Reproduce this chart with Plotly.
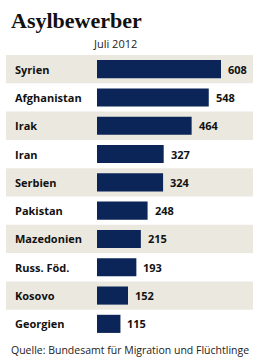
import plotly.graph_objects as go

countries = ["Syrien", "Afghanistan", "Irak", "Iran", "Serbien", "Pakistan",
             "Mazedonien", "Russ. Föd.", "Kosovo", "Georgien"]
values = [608, 548, 464, 327, 324, 248, 215, 193, 152, 115]

W, H = 255, 364
BAR = "#0b2558"
BAND = "#ebe8df"
FONT = "Open Sans"

# pixel layout
x0_px, x608_px, xend_px = 97, 221, 253
scale = (x608_px - x0_px) / 608
xmax = (xend_px - x0_px) / scale
top_px, pitch = 55, 28.3
bot_px = top_px + pitch * len(countries)

idx = list(range(len(countries)))

fig = go.Figure(go.Bar(
    x=values, y=idx, orientation="h", width=0.64,
    marker=dict(color=BAR, line=dict(width=0)),
    hoverinfo="skip",
))

shapes = []
for i in idx:
    if i % 2 == 0:
        shapes.append(dict(type="rect", xref="paper", yref="y", layer="below",
                           x0=6 / W, x1=253 / W, y0=i - 0.5, y1=i + 0.5,
                           fillcolor=BAND, line=dict(width=0)))

ann = []
for i, (c, v) in enumerate(zip(countries, values)):
    ann.append(dict(xref="paper", yref="y", x=13 / W, y=i, text=c, showarrow=False,
                    xanchor="left", yanchor="middle",
                    font=dict(family=FONT, size=11, color="#111111", weight="bold")))
    ann.append(dict(xref="x", yref="y", x=v, y=i, text=str(v), showarrow=False,
                    xanchor="left", yanchor="middle", xshift=5,
                    font=dict(family=FONT, size=11, color="#111111", weight="bold")))

ann.append(dict(xref="paper", yref="paper", x=9 / W, y=1 - 20 / H, text="Asylbewerber",
                showarrow=False, xanchor="left", yanchor="middle",
                font=dict(family="Liberation Serif", size=22, color="#111111", weight="bold")))
ann.append(dict(xref="paper", yref="paper", x=115 / W, y=1 - 43 / H, text="Juli 2012",
                showarrow=False, xanchor="center", yanchor="middle",
                font=dict(family=FONT, size=11, color="#222222")))
ann.append(dict(xref="paper", yref="paper", x=9 / W, y=1 - 350 / H,
                text="Quelle: Bundesamt für Migration und Flüchtlinge",
                showarrow=False, xanchor="left", yanchor="middle",
                font=dict(family=FONT, size=10.5, color="#222222")))

fig.update_layout(
    width=W, height=H, margin=dict(l=0, r=0, t=0, b=0),
    paper_bgcolor="white", plot_bgcolor="rgba(0,0,0,0)",
    showlegend=False, shapes=shapes, annotations=ann,
    xaxis=dict(domain=[x0_px / W, xend_px / W], range=[0, xmax], visible=False, fixedrange=True),
    yaxis=dict(domain=[1 - bot_px / H, 1 - top_px / H], range=[len(countries) - 0.5, -0.5],
               visible=False, fixedrange=True),
)

fig.write_html("out.html", config={"displayModeBar": False})
